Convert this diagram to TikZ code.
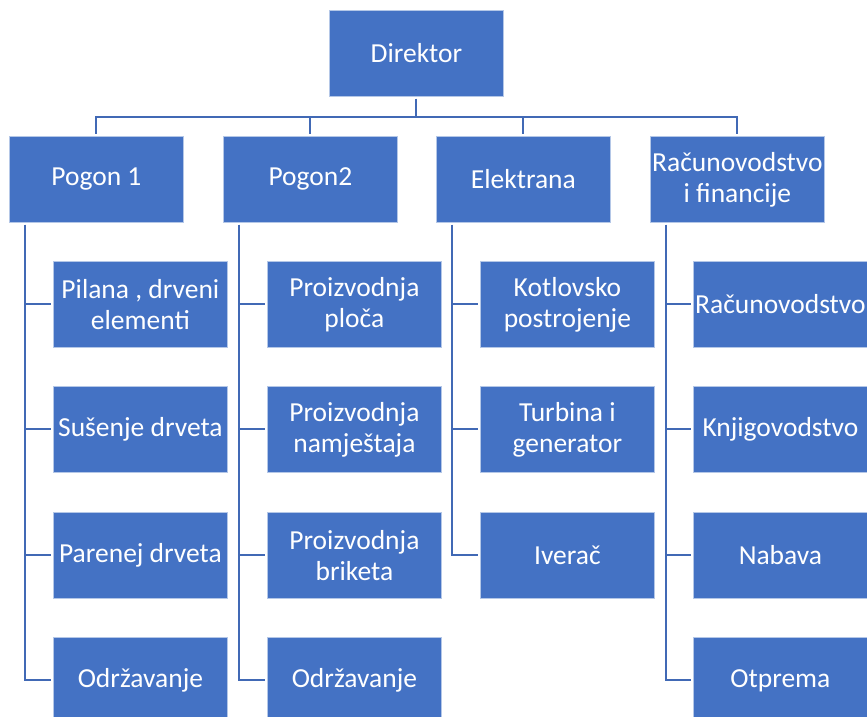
\documentclass[tikz,border=0pt]{standalone}
\usepackage{fontspec}
\setmainfont{Carlito}
\definecolor{boxblue}{HTML}{4472C4}
\definecolor{lineblue}{HTML}{4169B5}
\begin{document}
\begin{tikzpicture}[x=1pt,y=-1pt,
  orgbox/.style={rectangle, fill=boxblue, draw=boxblue!40!white, line width=0.8pt,
    text=white, minimum width=174pt, minimum height=86pt, inner sep=0pt,
    align=center, anchor=north west, font=\fontsize{27.5}{31}\selectfont},
  link/.style={draw=lineblue, line width=2pt, shorten <=2pt, shorten >=2pt}]
\useasboundingbox (0,0) rectangle (867,717);
% level 0
\node[orgbox] (dir) at (329,10) {Direktor};
% level 1
\node[orgbox] (p1) at (9,136) {Pogon 1};
\node[orgbox] (p2) at (223,136) {Pogon2};
\node[orgbox] (el) at (436,136) {Elektrana};
\node[orgbox] (rf) at (650,136) {Računovodstvo\\i financije};
% children column 1
\node[orgbox] (a1) at (53,261) {Pilana , drveni\\elementi};
\node[orgbox] (a2) at (53,386) {Sušenje drveta};
\node[orgbox] (a3) at (53,512) {Parenej drveta};
\node[orgbox] (a4) at (53,637) {Održavanje};
% column 2
\node[orgbox] (b1) at (267,261) {Proizvodnja\\ploča};
\node[orgbox] (b2) at (267,386) {Proizvodnja\\namještaja};
\node[orgbox] (b3) at (267,512) {Proizvodnja\\briketa};
\node[orgbox] (b4) at (267,637) {Održavanje};
% column 3
\node[orgbox] (c1) at (480,261) {Kotlovsko\\postrojenje};
\node[orgbox] (c2) at (480,386) {Turbina i\\generator};
\node[orgbox] (c3) at (480,512) {Iverač};
% column 4
\node[orgbox] (d1) at (693,261) {Računovodstvo};
\node[orgbox] (d2) at (693,386) {Knjigovodstvo};
\node[orgbox] (d3) at (693,512) {Nabava};
\node[orgbox] (d4) at (693,637) {Otprema};
% top connectors
\foreach \t in {p1,p2,el,rf}
  \draw[link] (dir.south) -- ++(0,20) -| (\t.north);
% child connectors
\foreach \p/\list in {p1/{a1,a2,a3,a4}, p2/{b1,b2,b3,b4}, el/{c1,c2,c3}, rf/{d1,d2,d3,d4}}
  \foreach \c in \list
    \draw[link] ([xshift=16pt]\p.south west) |- (\c.west);
\end{tikzpicture}
\end{document}
